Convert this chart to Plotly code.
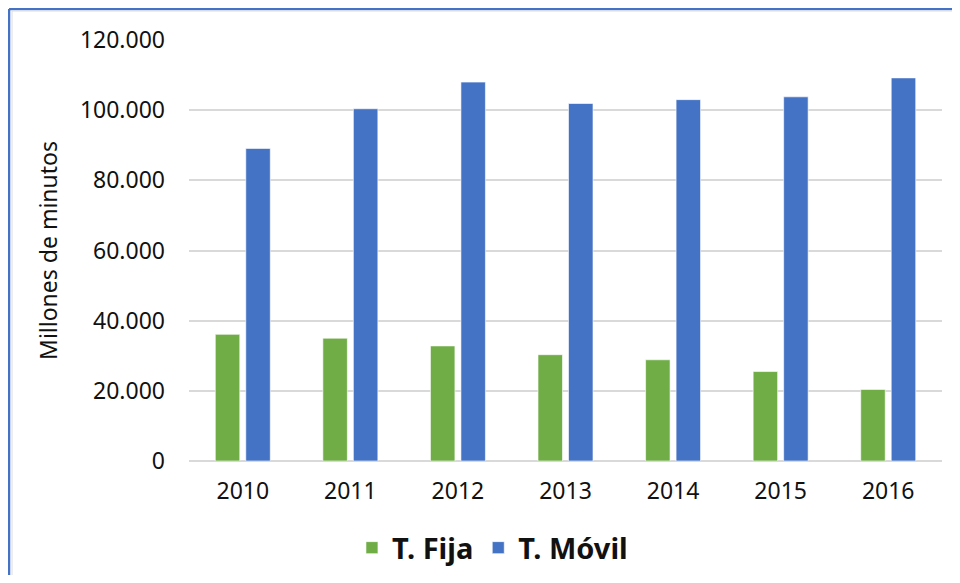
import plotly.graph_objects as go

years = ["2010", "2011", "2012", "2013", "2014", "2015", "2016"]
fija = [36100, 35000, 32800, 30300, 28850, 25500, 20400]
movil = [89100, 100400, 108000, 101900, 103000, 103800, 109200]
y_ticks = [0, 20000, 40000, 60000, 80000, 100000, 120000]

FONT = "Noto Sans"

fig = go.Figure()
fig.add_trace(go.Bar(
    name="T. Fija", x=years, y=fija,
    marker=dict(color="#70ad47", line=dict(color="rgba(255,255,255,0.6)", width=1)),
))
fig.add_trace(go.Bar(
    name="T. Móvil", x=years, y=movil,
    marker=dict(color="#4472c4", line=dict(color="rgba(255,255,255,0.6)", width=1)),
))

# page body has an 8px margin; the figure is sized to fit the window exactly
fig.update_layout(
    width=952, height=567,
    margin=dict(l=181, r=18, t=32, b=114),
    paper_bgcolor="white", plot_bgcolor="white",
    separators=",.",
    barmode="group", bargap=0.433, bargroupgap=0.197,
    font=dict(family=FONT, size=23, color="#111111"),
    showlegend=True,
    legend=dict(orientation="h", x=0.403, xanchor="center",
                yref="container", y=0.048, yanchor="middle",
                font=dict(family=FONT, size=29, color="#111111", weight="bold"),
                itemwidth=30, traceorder="normal"),
    yaxis=dict(range=[0, 120000], tickvals=y_ticks, tickformat=",d",
               showgrid=True, gridcolor="#d9d9d9", gridwidth=2,
               zeroline=True, zerolinecolor="#d9d9d9", zerolinewidth=2,
               showline=False, ticks="", ticklabelstandoff=23,
               tickfont=dict(family=FONT, size=23),
               title=dict(text="Millones de minutos", font=dict(family=FONT, size=23), standoff=15)),
    xaxis=dict(showgrid=False, showline=False, ticks="", ticklabelstandoff=14,
               tickfont=dict(family=FONT, size=23)),
    shapes=[
        dict(type="line", xref="paper", yref="paper", x0=-0.239, x1=1.03, y0=1.0736, y1=1.0736,
             line=dict(color="#4472c4", width=2.5)),
        dict(type="line", xref="paper", yref="paper", x0=-0.239, x1=-0.239, y0=1.0736, y1=-0.3,
             line=dict(color="#4472c4", width=2.5)),
        dict(type="line", xref="paper", yref="paper", x0=-0.235, x1=1.03, y0=1.0688, y1=1.0688,
             line=dict(color="#dddddd", width=1)),
        dict(type="line", xref="paper", yref="paper", x0=-0.235, x1=-0.235, y0=1.0688, y1=-0.3,
             line=dict(color="#dddddd", width=1)),
    ],
)

fig.write_html("out.html", config={"displayModeBar": False})
